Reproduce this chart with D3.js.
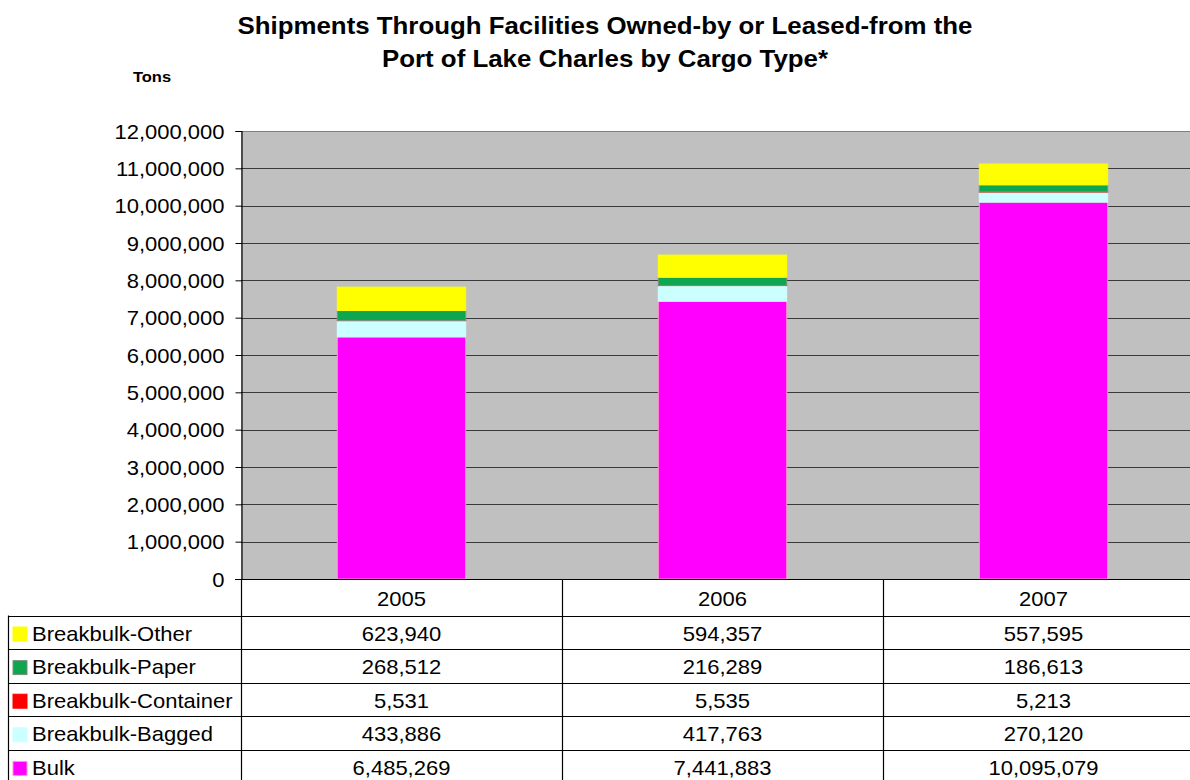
<!DOCTYPE html>
<html>
<head>
<meta charset="utf-8">
<script src="https://cdn.jsdelivr.net/npm/d3@7/dist/d3.min.js"></script>
<style>
  body { margin: 0; background: #fff; }
  svg { display: block; font-family: "Liberation Sans", Arial, sans-serif; }
</style>
</head>
<body>
<div id="chart"></div>
<script>
// chart data
const years = ['2005', '2006', '2007'];
const seriesNames = ['Breakbulk-Other', 'Breakbulk-Paper', 'Breakbulk-Container', 'Breakbulk-Bagged', 'Bulk'];
const seriesColors = ['#ffff00', '#0ea64f', '#ff0000', '#ccffff', '#ff00ff'];
const seriesStrokes = ['#ffff00', '#7f8f80', '#ff0000', '#ccffff', '#ff99cc'];
const other = [623940, 594357, 557595];
const paper = [268512, 216289, 186613];
const container = [5531, 5535, 5213];
const bagged = [433886, 417763, 270120];
const bulk = [6485269, 7441883, 10095079];
const yTicks = d3.range(0, 12000001, 1000000);

const seriesValues = [other, paper, container, bagged, bulk];

const width = 1190;
const height = 780;
const plot = { left: 241, right: 1204, top: 131, bottom: 579 };
const rowH = 33.6;
const headerBottom = 615.5;
const tableLeft = 8;
const stretch = 1.1; // the source picture is a bit wider than tall

const svg = d3.select('#chart').append('svg')
  .attr('width', width)
  .attr('height', height);

// text helper: place at (x, y) and widen a little
const label = (g, tx, ty, str, size, anchor) => g.append('text')
  .attr('transform', `translate(${tx},${ty}) scale(${stretch},1)`)
  .attr('text-anchor', anchor || 'start')
  .attr('font-size', size)
  .attr('fill', '#000')
  .text(str);

// title
label(svg, 605, 34, 'Shipments Through Facilities Owned-by or Leased-from the', 23.5, 'middle')
  .attr('font-weight', 'bold');
label(svg, 605, 67, 'Port of Lake Charles by Cargo Type*', 23.5, 'middle')
  .attr('font-weight', 'bold');
label(svg, 152, 82, 'Tons', 15, 'middle')
  .attr('font-weight', 'bold');

const x = d3.scaleBand()
  .domain(years)
  .range([plot.left, plot.right]);

const y = d3.scaleLinear()
  .domain([0, 12000000])
  .range([plot.bottom, plot.top]);

// plot background
svg.append('rect')
  .attr('x', plot.left)
  .attr('y', plot.top)
  .attr('width', plot.right - plot.left)
  .attr('height', plot.bottom - plot.top)
  .attr('fill', '#c0c0c0');

// gridlines
svg.append('g')
  .selectAll('line')
  .data(yTicks.filter(d => d > 0))
  .enter().append('line')
  .attr('x1', plot.left)
  .attr('x2', plot.right)
  .attr('y1', d => Math.round(y(d)) + 0.5)
  .attr('y2', d => Math.round(y(d)) + 0.5)
  .attr('stroke', d => (d === 12000000 ? '#808080' : '#3a3a3a'))
  .attr('stroke-width', 1.2);

// stacked bars, bottom to top: Bulk first
const rows = years.map((yr, i) => {
  const r = { year: yr };
  seriesNames.forEach((s, j) => { r[s] = seriesValues[j][i]; });
  return r;
});
const stack = d3.stack().keys(seriesNames.slice().reverse());
const layers = stack(rows);
const barW = x.bandwidth() * 0.4;

layers.forEach((layer) => {
  const j = seriesNames.indexOf(layer.key);
  svg.append('g')
    .selectAll('rect')
    .data(layer)
    .enter().append('rect')
    .attr('x', d => x(d.data.year) + (x.bandwidth() - barW) / 2)
    .attr('y', d => y(d[1]))
    .attr('width', barW)
    .attr('height', d => Math.max(0, y(d[0]) - y(d[1])))
    .attr('fill', seriesColors[j])
    .attr('stroke', seriesStrokes[j])
    .attr('stroke-width', 1);
});

// y axis
const yAxis = svg.append('g')
  .attr('transform', `translate(${plot.left + 0.5},0)`)
  .call(d3.axisLeft(y)
    .tickValues(yTicks)
    .tickSize(6)
    .tickFormat(d3.format(',')));
yAxis.select('.domain').attr('stroke', '#000').attr('stroke-width', 1.2);
yAxis.selectAll('.tick line').attr('stroke', '#000');
yAxis.selectAll('.tick text')
  .attr('x', -17 / stretch)
  .attr('dy', '0.35em')
  .attr('transform', `scale(${stretch},1)`)
  .attr('font-family', '"Liberation Sans", Arial, sans-serif')
  .attr('font-size', 20)
  .attr('fill', '#000');

// data table
const table = svg.append('g').attr('stroke', '#000').attr('stroke-width', 1.2);
table.append('line')
  .attr('x1', plot.left - 6).attr('x2', width)
  .attr('y1', plot.bottom + 0.5).attr('y2', plot.bottom + 0.5);
for (let i = 0; i <= seriesNames.length; i += 1) {
  const yy = Math.round(headerBottom + i * rowH) + 0.5;
  table.append('line')
    .attr('x1', tableLeft).attr('x2', width)
    .attr('y1', yy).attr('y2', yy);
}
table.append('line')
  .attr('x1', tableLeft + 0.5).attr('x2', tableLeft + 0.5)
  .attr('y1', headerBottom).attr('y2', height);
[plot.left].concat(years.slice(1).map(d => x(d))).forEach((xx) => {
  table.append('line')
    .attr('x1', Math.round(xx) + 0.5).attr('x2', Math.round(xx) + 0.5)
    .attr('y1', plot.bottom).attr('y2', height);
});

// header years
const cells = svg.append('g');
years.forEach((yr) => {
  label(cells, x(yr) + x.bandwidth() / 2, 606, yr, 20, 'middle');
});

// row labels with color keys and values
seriesNames.forEach((s, j) => {
  const top = headerBottom + j * rowH;
  cells.append('rect')
    .attr('x', 13)
    .attr('y', top + 11.5)
    .attr('width', 14)
    .attr('height', 14)
    .attr('fill', seriesColors[j])
    .attr('stroke', seriesStrokes[j])
    .attr('stroke-width', 1);
  label(cells, 32, top + 25, s, 20, 'start');
  seriesValues[j].forEach((v, i) => {
    label(cells, x(years[i]) + x.bandwidth() / 2, top + 25, d3.format(',')(v), 20, 'middle');
  });
});
</script>
</body>
</html>
